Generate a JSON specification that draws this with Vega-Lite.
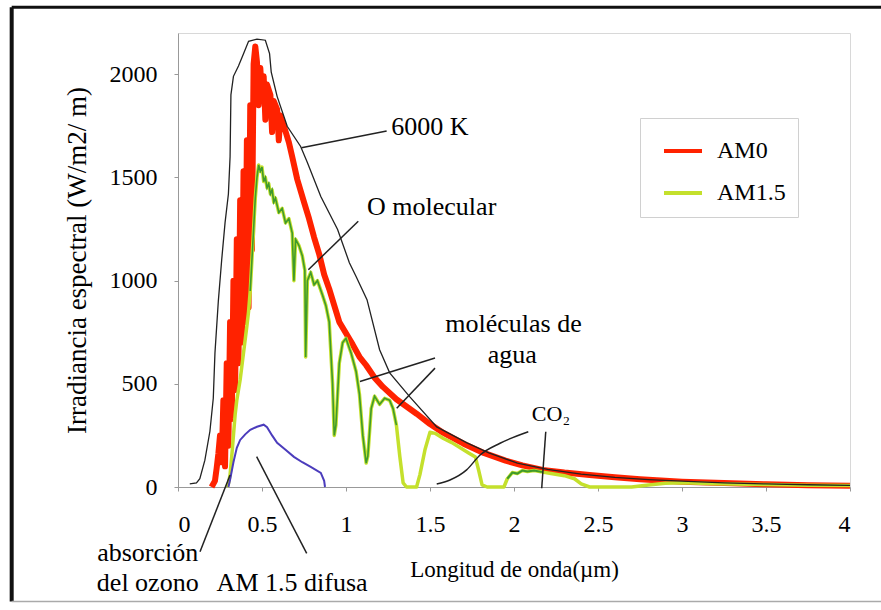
{
  "$schema": "https://vega.github.io/schema/vega-lite/v6.json",
  "width": 672,
  "height": 454,
  "autosize": "none",
  "padding": {"left": 178, "top": 33, "right": 31, "bottom": 123},
  "background": "white",
  "config": {
    "view": {"stroke": "#d8d8d8", "strokeWidth": 1},
    "font": "Liberation Serif, Times New Roman, serif",
    "axis": {"labelFont": "Liberation Serif, Times New Roman, serif", "titleFont": "Liberation Serif, Times New Roman, serif", "labelColor": "#000", "titleColor": "#000", "domainColor": "#999", "tickColor": "#999", "grid": false, "titleFontWeight": "normal"},
    "legend": {"labelFont": "Liberation Serif, Times New Roman, serif"}
  },
  "datasets": {
    "espectro": [
      {"s":"AM0","x":0.20,"y":0},{"s":"AM0","x":0.22,"y":30},{"s":"AM0","x":0.23,"y":90},{"s":"AM0","x":0.24,"y":160},{"s":"AM0","x":0.25,"y":250},{"s":"AM0","x":0.26,"y":120},{"s":"AM0","x":0.27,"y":420},{"s":"AM0","x":0.28,"y":100},{"s":"AM0","x":0.29,"y":600},{"s":"AM0","x":0.30,"y":200},{"s":"AM0","x":0.31,"y":800},{"s":"AM0","x":0.32,"y":330},{"s":"AM0","x":0.33,"y":1000},{"s":"AM0","x":0.34,"y":470},{"s":"AM0","x":0.35,"y":1200},{"s":"AM0","x":0.36,"y":600},{"s":"AM0","x":0.37,"y":1390},{"s":"AM0","x":0.38,"y":700},{"s":"AM0","x":0.39,"y":1530},{"s":"AM0","x":0.40,"y":800},{"s":"AM0","x":0.41,"y":1680},{"s":"AM0","x":0.42,"y":870},{"s":"AM0","x":0.43,"y":1850},{"s":"AM0","x":0.44,"y":1150},{"s":"AM0","x":0.45,"y":2050},{"s":"AM0","x":0.46,"y":2135},{"s":"AM0","x":0.47,"y":2060},{"s":"AM0","x":0.48,"y":1850},{"s":"AM0","x":0.49,"y":2030},{"s":"AM0","x":0.50,"y":1900},{"s":"AM0","x":0.51,"y":1990},{"s":"AM0","x":0.52,"y":1780},{"s":"AM0","x":0.53,"y":1950},{"s":"AM0","x":0.55,"y":1900},{"s":"AM0","x":0.56,"y":1720},{"s":"AM0","x":0.57,"y":1870},{"s":"AM0","x":0.59,"y":1830},{"s":"AM0","x":0.60,"y":1680},{"s":"AM0","x":0.61,"y":1800},{"s":"AM0","x":0.63,"y":1750},{"s":"AM0","x":0.66,"y":1670},{"s":"AM0","x":0.68,"y":1600},{"s":"AM0","x":0.71,"y":1490},{"s":"AM0","x":0.75,"y":1380},{"s":"AM0","x":0.78,"y":1300},{"s":"AM0","x":0.81,"y":1210},{"s":"AM0","x":0.84,"y":1130},{"s":"AM0","x":0.87,"y":1030},{"s":"AM0","x":0.90,"y":960},{"s":"AM0","x":0.93,"y":880},{"s":"AM0","x":0.96,"y":800},{"s":"AM0","x":1.0,"y":745},{"s":"AM0","x":1.04,"y":690},{"s":"AM0","x":1.08,"y":631},{"s":"AM0","x":1.12,"y":590},{"s":"AM0","x":1.17,"y":530},{"s":"AM0","x":1.22,"y":485},{"s":"AM0","x":1.3,"y":425},{"s":"AM0","x":1.36,"y":390},{"s":"AM0","x":1.42,"y":355},{"s":"AM0","x":1.5,"y":305},{"s":"AM0","x":1.58,"y":262},{"s":"AM0","x":1.7,"y":210},{"s":"AM0","x":1.82,"y":165},{"s":"AM0","x":1.95,"y":128},{"s":"AM0","x":2.05,"y":105},{"s":"AM0","x":2.17,"y":83},{"s":"AM0","x":2.3,"y":70},{"s":"AM0","x":2.45,"y":58},{"s":"AM0","x":2.6,"y":47},{"s":"AM0","x":2.75,"y":38},{"s":"AM0","x":2.9,"y":30},{"s":"AM0","x":3.0,"y":26},{"s":"AM0","x":3.25,"y":19},{"s":"AM0","x":3.5,"y":13},{"s":"AM0","x":3.75,"y":9},{"s":"AM0","x":4.0,"y":6},
      {"s":"AM1.5","x":0.29,"y":0},{"s":"AM1.5","x":0.30,"y":15},{"s":"AM1.5","x":0.31,"y":60},{"s":"AM1.5","x":0.32,"y":150},{"s":"AM1.5","x":0.33,"y":250},{"s":"AM1.5","x":0.34,"y":350},{"s":"AM1.5","x":0.35,"y":420},{"s":"AM1.5","x":0.37,"y":520},{"s":"AM1.5","x":0.39,"y":650},{"s":"AM1.5","x":0.41,"y":780},{"s":"AM1.5","x":0.42,"y":850},{"s":"AM1.5","x":0.43,"y":950},{"s":"AM1.5","x":0.44,"y":1100},{"s":"AM1.5","x":0.45,"y":1250},{"s":"AM1.5","x":0.46,"y":1400},{"s":"AM1.5","x":0.47,"y":1500},{"s":"AM1.5","x":0.48,"y":1560},{"s":"AM1.5","x":0.49,"y":1530},{"s":"AM1.5","x":0.50,"y":1550},{"s":"AM1.5","x":0.51,"y":1480},{"s":"AM1.5","x":0.52,"y":1500},{"s":"AM1.5","x":0.53,"y":1450},{"s":"AM1.5","x":0.54,"y":1470},{"s":"AM1.5","x":0.55,"y":1420},{"s":"AM1.5","x":0.56,"y":1440},{"s":"AM1.5","x":0.57,"y":1380},{"s":"AM1.5","x":0.58,"y":1400},{"s":"AM1.5","x":0.60,"y":1330},{"s":"AM1.5","x":0.62,"y":1350},{"s":"AM1.5","x":0.64,"y":1280},{"s":"AM1.5","x":0.66,"y":1300},{"s":"AM1.5","x":0.68,"y":1230},{"s":"AM1.5","x":0.69,"y":1000},{"s":"AM1.5","x":0.70,"y":1200},{"s":"AM1.5","x":0.72,"y":1170},{"s":"AM1.5","x":0.74,"y":1120},{"s":"AM1.5","x":0.755,"y":1050},{"s":"AM1.5","x":0.76,"y":630},{"s":"AM1.5","x":0.77,"y":1000},{"s":"AM1.5","x":0.79,"y":1040},{"s":"AM1.5","x":0.81,"y":980},{"s":"AM1.5","x":0.83,"y":1000},{"s":"AM1.5","x":0.86,"y":930},{"s":"AM1.5","x":0.88,"y":880},{"s":"AM1.5","x":0.90,"y":800},{"s":"AM1.5","x":0.92,"y":500},{"s":"AM1.5","x":0.93,"y":250},{"s":"AM1.5","x":0.94,"y":300},{"s":"AM1.5","x":0.96,"y":600},{"s":"AM1.5","x":0.98,"y":700},{"s":"AM1.5","x":1.0,"y":720},{"s":"AM1.5","x":1.03,"y":650},{"s":"AM1.5","x":1.06,"y":560},{"s":"AM1.5","x":1.08,"y":450},{"s":"AM1.5","x":1.10,"y":250},{"s":"AM1.5","x":1.12,"y":116},{"s":"AM1.5","x":1.13,"y":150},{"s":"AM1.5","x":1.15,"y":380},{"s":"AM1.5","x":1.17,"y":440},{"s":"AM1.5","x":1.20,"y":400},{"s":"AM1.5","x":1.23,"y":430},{"s":"AM1.5","x":1.26,"y":420},{"s":"AM1.5","x":1.28,"y":380},{"s":"AM1.5","x":1.30,"y":300},{"s":"AM1.5","x":1.32,"y":150},{"s":"AM1.5","x":1.34,"y":20},{"s":"AM1.5","x":1.36,"y":0},{"s":"AM1.5","x":1.42,"y":0},{"s":"AM1.5","x":1.44,"y":60},{"s":"AM1.5","x":1.47,"y":180},{"s":"AM1.5","x":1.50,"y":265},{"s":"AM1.5","x":1.53,"y":260},{"s":"AM1.5","x":1.58,"y":235},{"s":"AM1.5","x":1.63,"y":215},{"s":"AM1.5","x":1.68,"y":190},{"s":"AM1.5","x":1.73,"y":165},{"s":"AM1.5","x":1.77,"y":145},{"s":"AM1.5","x":1.79,"y":80},{"s":"AM1.5","x":1.81,"y":10},{"s":"AM1.5","x":1.84,"y":0},{"s":"AM1.5","x":1.94,"y":0},{"s":"AM1.5","x":1.96,"y":40},{"s":"AM1.5","x":1.99,"y":70},{"s":"AM1.5","x":2.02,"y":65},{"s":"AM1.5","x":2.05,"y":80},{"s":"AM1.5","x":2.08,"y":75},{"s":"AM1.5","x":2.12,"y":80},{"s":"AM1.5","x":2.17,"y":72},{"s":"AM1.5","x":2.22,"y":65},{"s":"AM1.5","x":2.3,"y":55},{"s":"AM1.5","x":2.36,"y":40},{"s":"AM1.5","x":2.4,"y":15},{"s":"AM1.5","x":2.45,"y":0},{"s":"AM1.5","x":2.7,"y":0},{"s":"AM1.5","x":2.8,"y":10},{"s":"AM1.5","x":2.9,"y":18},{"s":"AM1.5","x":3.0,"y":20},{"s":"AM1.5","x":3.2,"y":16},{"s":"AM1.5","x":3.5,"y":12},{"s":"AM1.5","x":3.75,"y":9},{"s":"AM1.5","x":4.0,"y":7}
    ],
    "cuerpo": [
      {"x":0.07,"y":15},{"x":0.11,"y":20},{"x":0.13,"y":40},{"x":0.16,"y":130},{"x":0.19,"y":270},{"x":0.21,"y":430},{"x":0.22,"y":650},{"x":0.24,"y":900},{"x":0.26,"y":1100},{"x":0.28,"y":1280},{"x":0.30,"y":1420},{"x":0.31,"y":1600},{"x":0.315,"y":1900},{"x":0.33,"y":1990},{"x":0.36,"y":2040},{"x":0.39,"y":2100},{"x":0.42,"y":2160},{"x":0.47,"y":2170},{"x":0.52,"y":2165},{"x":0.545,"y":2100},{"x":0.555,"y":2010},{"x":0.59,"y":1893},{"x":0.65,"y":1748},{"x":0.73,"y":1650},{"x":0.77,"y":1573},{"x":0.85,"y":1408},{"x":0.95,"y":1248},{"x":1.02,"y":1087},{"x":1.06,"y":1020},{"x":1.125,"y":908},{"x":1.2,"y":665},{"x":1.26,"y":553},{"x":1.38,"y":437},{"x":1.54,"y":291},{"x":1.72,"y":214},{"x":1.85,"y":165},{"x":2.02,"y":116},{"x":2.2,"y":85},{"x":2.4,"y":62},{"x":2.6,"y":47},{"x":2.8,"y":36},{"x":3.0,"y":28},{"x":3.25,"y":20},{"x":3.5,"y":15},{"x":3.75,"y":11},{"x":4.0,"y":8}
    ],
    "difusa": [
      {"x":0.30,"y":0},{"x":0.31,"y":35},{"x":0.33,"y":120},{"x":0.35,"y":190},{"x":0.37,"y":228},{"x":0.40,"y":255},{"x":0.43,"y":277},{"x":0.47,"y":292},{"x":0.51,"y":302},{"x":0.53,"y":290},{"x":0.56,"y":250},{"x":0.59,"y":214},{"x":0.64,"y":180},{"x":0.69,"y":146},{"x":0.74,"y":120},{"x":0.79,"y":97},{"x":0.85,"y":68},{"x":0.87,"y":30},{"x":0.875,"y":0}
    ],
    "guias": [
      {"x":0.735,"y":1644,"x2":1.242,"y2":1725},
      {"x":1.073,"y":1288,"x2":0.776,"y2":1053},
      {"x":1.530,"y":625,"x2":1.083,"y2":511},
      {"x":1.530,"y":576,"x2":1.302,"y2":382},
      {"x":2.189,"y":268,"x2":2.165,"y2":-6},
      {"x":0.131,"y":-314,"x2":0.31,"y2":58},
      {"x":0.766,"y":-322,"x2":0.468,"y2":147}
    ],
    "co2": [
      {"x":1.540,"y":15},{"x":1.619,"y":34},{"x":1.718,"y":83},{"x":1.798,"y":155},{"x":1.917,"y":212},{"x":2.085,"y":268}
    ],
    "etiquetas": [
      {"t":"6000 K","x":1.5,"y":1743},
      {"t":"O molecular","x":1.51,"y":1359},
      {"t":"moléculas de","x":1.997,"y":791},
      {"t":"agua","x":1.99,"y":641},
      {"t":"absorción","x":-0.18,"y":-320},
      {"t":"del ozono","x":-0.18,"y":-465},
      {"t":"AM 1.5 difusa","x":0.679,"y":-465}
    ],
    "quimica": [
      {"t":"CO₂","x":2.22,"y":354}
    ]
  },
  "layer": [
    {
      "data": {"values": [{}]},
      "mark": {"type": "rule", "color": "#111", "strokeWidth": 3},
      "encoding": {"x": {"datum": -0.99, "type": "quantitative", "scale": {"domain": [0, 4], "nice": false, "zero": false}}, "x2": {"datum": 4.4}, "y": {"datum": 2325, "type": "quantitative"}}
    },
    {
      "data": {"values": [{}]},
      "mark": {"type": "rule", "color": "#111", "strokeWidth": 4},
      "encoding": {"x": {"datum": -0.99, "type": "quantitative"}, "y": {"datum": 2325, "type": "quantitative"}, "y2": {"datum": -555}}
    },
    {
      "data": {"values": [{}]},
      "mark": {"type": "rule", "color": "#aaa", "strokeWidth": 1.5},
      "encoding": {"x": {"datum": -0.99, "type": "quantitative"}, "x2": {"datum": 4.4}, "y": {"datum": -555, "type": "quantitative"}}
    },
    {
      "data": {"name": "espectro"},
      "transform": [{"filter": {"field": "s", "equal": "AM0"}}],
      "mark": {"type": "line", "strokeWidth": 6, "strokeJoin": "round"},
      "encoding": {
        "x": {"field": "x", "type": "quantitative", "scale": {"domain": [0, 4], "nice": false, "zero": false},
          "axis": {"values": [0, 0.5, 1, 1.5, 2, 2.5, 3, 3.5, 4], "format": "~g", "labelFontSize": 24, "tickSize": 4, "labelPadding": 21, "title": "Longitud de onda(µm)", "titleFontSize": 23, "titlePadding": 22}},
        "y": {"field": "y", "type": "quantitative", "scale": {"domain": [0, 2200], "nice": false},
          "axis": {"values": [0, 500, 1000, 1500, 2000], "format": "d", "labelFontSize": 24, "tickSize": 4, "labelPadding": 17, "title": "Irradiancia espectral (W/m2/ m)", "titleFontSize": 27, "titlePadding": 18}},
        "color": {"field": "s", "type": "nominal", "scale": {"domain": ["AM0", "AM1.5"], "range": ["#ff2200", "#c4e02c"]},
          "legend": {"title": null, "orient": "none", "legendX": 462, "legendY": 85, "strokeColor": "#d0d0d0", "fillColor": "white", "padding": 12, "symbolType": "stroke", "symbolStrokeWidth": 4, "symbolSize": 1444, "symbolOffset": 10, "labelFontSize": 24, "labelOffset": 13, "rowPadding": 9, "labelColor": "#000"}}
      }
    },
    {
      "data": {"name": "espectro"},
      "transform": [{"filter": {"field": "s", "equal": "AM1.5"}}],
      "mark": {"type": "line", "strokeWidth": 3.5, "strokeJoin": "round"},
      "encoding": {
        "x": {"field": "x", "type": "quantitative"},
        "y": {"field": "y", "type": "quantitative"},
        "color": {"field": "s", "type": "nominal"}
      }
    },
    {
      "data": {"name": "espectro"},
      "transform": [{"filter": {"field": "s", "equal": "AM1.5"}}, {"filter": {"field": "x", "range": [0.43, 1.3]}}],
      "mark": {"type": "line", "color": "#3e9a2c", "strokeWidth": 1.6},
      "encoding": {"x": {"field": "x", "type": "quantitative"}, "y": {"field": "y", "type": "quantitative"}}
    },
    {
      "data": {"name": "espectro"},
      "transform": [{"filter": {"field": "s", "equal": "AM1.5"}}, {"filter": {"field": "x", "range": [1.96, 2.17]}}],
      "mark": {"type": "line", "color": "#3e9a2c", "strokeWidth": 2},
      "encoding": {"x": {"field": "x", "type": "quantitative"}, "y": {"field": "y", "type": "quantitative"}}
    },
    {
      "data": {"name": "difusa"},
      "mark": {"type": "line", "color": "#4b3cbc", "strokeWidth": 2},
      "encoding": {"x": {"field": "x", "type": "quantitative"}, "y": {"field": "y", "type": "quantitative"}}
    },
    {
      "data": {"name": "cuerpo"},
      "mark": {"type": "line", "color": "#222", "strokeWidth": 1.3},
      "encoding": {"x": {"field": "x", "type": "quantitative"}, "y": {"field": "y", "type": "quantitative"}}
    },
    {
      "data": {"name": "co2"},
      "mark": {"type": "line", "color": "#222", "strokeWidth": 1.5, "interpolate": "monotone"},
      "encoding": {"x": {"field": "x", "type": "quantitative"}, "y": {"field": "y", "type": "quantitative"}}
    },
    {
      "data": {"name": "guias"},
      "mark": {"type": "rule", "color": "#222", "strokeWidth": 1.5},
      "encoding": {"x": {"field": "x", "type": "quantitative"}, "y": {"field": "y", "type": "quantitative"}, "x2": {"field": "x2"}, "y2": {"field": "y2"}}
    },
    {
      "data": {"name": "etiquetas"},
      "mark": {"type": "text", "font": "Liberation Serif, Times New Roman, serif", "fontSize": 26, "color": "#000", "align": "center", "baseline": "middle"},
      "encoding": {"x": {"field": "x", "type": "quantitative"}, "y": {"field": "y", "type": "quantitative"}, "text": {"field": "t"}}
    },
    {
      "data": {"name": "quimica"},
      "mark": {"type": "text", "font": "Liberation Serif, Times New Roman, serif", "fontSize": 22, "color": "#000", "align": "center", "baseline": "middle"},
      "encoding": {"x": {"field": "x", "type": "quantitative"}, "y": {"field": "y", "type": "quantitative"}, "text": {"field": "t"}}
    }
  ]
}
